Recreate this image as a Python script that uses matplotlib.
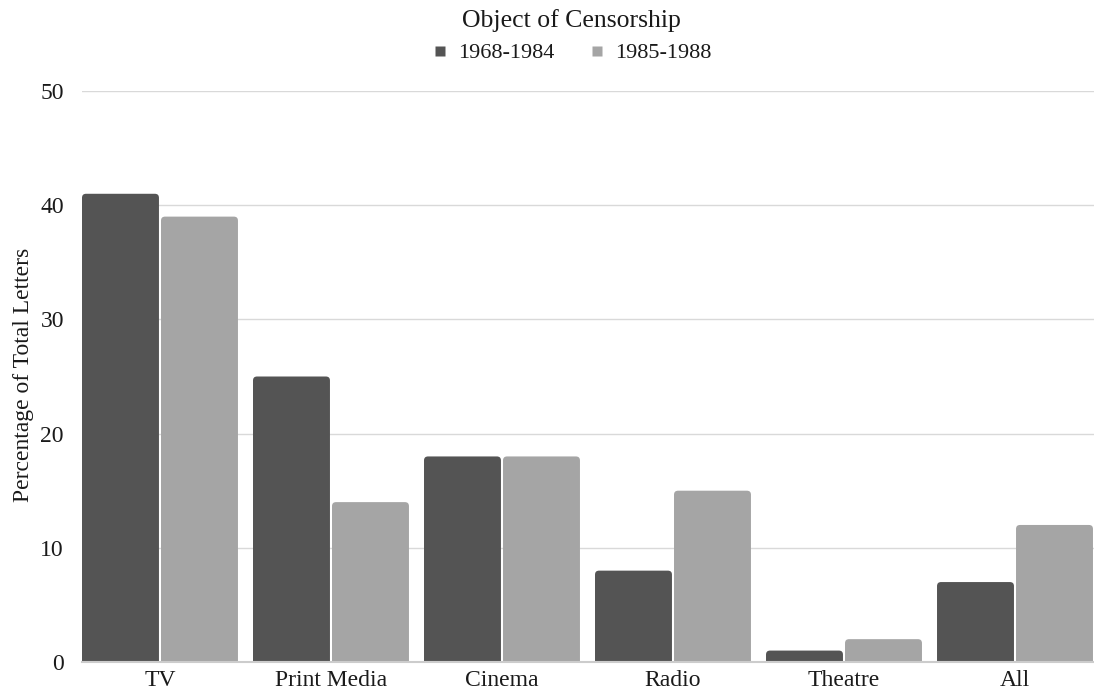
import matplotlib
matplotlib.use("Agg")
import matplotlib.pyplot as plt
from matplotlib.patches import FancyBboxPatch
from matplotlib.lines import Line2D
import numpy as np

plt.rcParams['font.family'] = ['Liberation Serif', 'DejaVu Serif']

categories = ["TV", "Print Media", "Cinema", "Radio", "Theatre", "All"]
series_names = ["1968-1984", "1985-1988"]
values_1968_1984 = [41, 25, 18, 8, 1, 7]
values_1985_1988 = [39, 14, 18, 15, 2, 12]
y_ticks = [0, 10, 20, 30, 40, 50]

dark = "#545454"
light = "#a5a5a5"
grid_col = "#d9d9d9"
text_col = "#1a1a1a"

W, H = 1094, 694
fig = plt.figure(figsize=(W / 100, H / 100), dpi=100)
ax = fig.add_axes([82 / W, (H - 662) / H, 1 - 82 / W, (662 - 91) / H])

x = np.arange(len(categories))
bw = 0.45
off = 0.231
b1 = ax.bar(x - off, values_1968_1984, bw, color=dark)
b2 = ax.bar(x + off, values_1985_1988, bw, color=light)

ax.set_xlim(-0.456, 5.462)
ax.set_ylim(0, 50)

# rounded top corners: swap each rectangle for a rounded box of the same extent
px_x = 1.0 / 171.0
px_y = 50.0 / 571.0
r = 4 * px_x
aspect = px_y / px_x
for bars in (b1, b2):
    for p in bars:
        p.set_visible(False)
        x0, y0 = p.get_x(), p.get_y()
        w, h = p.get_width(), p.get_height()
        ext = 6 * px_y
        fb = FancyBboxPatch((x0, y0 - ext), w, h + ext,
                            boxstyle=f"round,pad=0,rounding_size={r}",
                            mutation_aspect=aspect,
                            facecolor=p.get_facecolor(), edgecolor="none",
                            zorder=2)
        ax.add_patch(fb)

ax.set_yticks(y_ticks)
ax.set_xticks(x)
ax.set_xticklabels(categories)
ax.grid(axis="y", color=grid_col, linewidth=1.0, zorder=0)
ax.set_axisbelow(True)
for s in ["top", "right", "left"]:
    ax.spines[s].set_visible(False)
ax.spines["bottom"].set_color("#cccccc")
ax.spines["bottom"].set_linewidth(1.5)
ax.spines["bottom"].set_zorder(3)
ax.tick_params(axis="both", length=0, labelsize=17, colors=text_col)
ax.tick_params(axis="y", pad=13)
ax.tick_params(axis="x", pad=6)

fig.text(24 / W, (H - 375) / H, "Percentage of Total Letters", rotation=90,
         ha="center", va="center", fontsize=17, color=text_col)
fig.text(571 / W, (H - 21) / H, "Object of Censorship", ha="center",
         va="center", fontsize=18.5, color=text_col)

handles = [Line2D([], [], linestyle="none", marker="s", markersize=7.5,
                  markerfacecolor=dark, markeredgecolor="none"),
           Line2D([], [], linestyle="none", marker="s", markersize=7.5,
                  markerfacecolor=light, markeredgecolor="none")]
leg = fig.legend(handles=handles, labels=series_names, loc="center",
                 bbox_to_anchor=(573 / W, (H - 53) / H), ncol=2, frameon=False,
                 fontsize=16, handlelength=0.5, handletextpad=0.55,
                 columnspacing=1.67, labelcolor=text_col,
                 borderpad=0, borderaxespad=0)

fig.savefig("out.png", dpi=100)
